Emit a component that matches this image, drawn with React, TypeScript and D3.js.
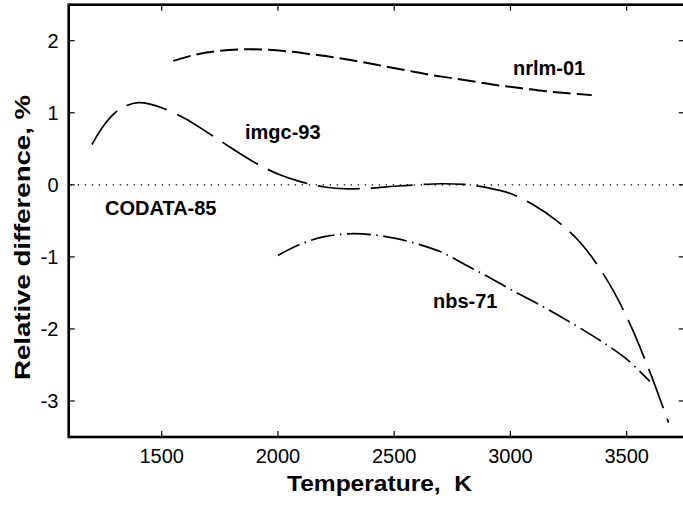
import React from "react";
import * as d3 from "d3";

const xTicks = [1500, 2000, 2500, 3000, 3500];
const yTicks = [-3, -2, -1, 0, 1, 2];

const nrlmT = [1550, 1650, 1750, 1850, 1950, 2050, 2150, 2250, 2350, 2450, 2550, 2650, 2750, 2850, 2950, 3050, 3150, 3250, 3350];
const nrlmV = [1.72, 1.81, 1.86, 1.88, 1.875, 1.85, 1.81, 1.765, 1.71, 1.65, 1.59, 1.53, 1.48, 1.43, 1.38, 1.34, 1.30, 1.27, 1.245];

const imgcT = [1200, 1250, 1300, 1350, 1400, 1450, 1500, 1600, 1700, 1800, 1900, 2000, 2100, 2200, 2300, 2400, 2500, 2600, 2700, 2800, 2900, 3000, 3100, 3200, 3300, 3400, 3500, 3600, 3680];
const imgcV = [0.56, 0.82, 1.0, 1.1, 1.14, 1.12, 1.07, 0.92, 0.72, 0.51, 0.31, 0.15, 0.04, -0.03, -0.055, -0.045, -0.02, 0.0, 0.015, 0.005, -0.04, -0.12, -0.28, -0.5, -0.8, -1.24, -1.83, -2.6, -3.3];

const nbsT = [2000, 2100, 2200, 2300, 2400, 2500, 2600, 2700, 2800, 2900, 3000, 3100, 3200, 3300, 3400, 3500, 3600];
const nbsV = [-0.98, -0.82, -0.72, -0.68, -0.69, -0.74, -0.82, -0.93, -1.1, -1.27, -1.45, -1.62, -1.8, -1.99, -2.19, -2.42, -2.73];

const labels = ["nrlm-01", "imgc-93", "CODATA-85", "nbs-71"];

const W = 683;
const H = 505;

export default function App() {
  const x = d3.scaleLinear().domain([1100, 3750]).range([68.7, 684.8]);
  const y = d3.scaleLinear().domain([-3.5, 2.5]).range([437, 4.7]);
  const line = d3
    .line<[number, number]>()
    .x((d) => x(d[0]))
    .y((d) => y(d[1]))
    .curve(d3.curveCatmullRom.alpha(0.5));
  const zip = (a: number[], b: number[]) => a.map((t, i) => [t, b[i]] as [number, number]);
  const x0 = x(1100);
  const x1 = x(3750);
  const yTop = y(2.5);
  const yBot = y(-3.5);
  const font = "Arial, 'Liberation Sans', Helvetica, sans-serif";
  return (
    <svg
      width={W}
      height={H}
      style={{ position: "absolute", left: 0, top: 0, background: "#fff" }}
      fontFamily={font}
    >
      <defs>
        <clipPath id="plot">
          <rect x={x0} y={yTop} width={x1 - x0} height={yBot - yTop} />
        </clipPath>
      </defs>
      {/* zero line */}
      <line
        x1={x0 + 2}
        x2={x1}
        y1={y(0)}
        y2={y(0)}
        stroke="#000"
        strokeWidth={1.4}
        strokeDasharray="1.4 5.6"
      />
      <g clipPath="url(#plot)" fill="none" stroke="#000">
        <path d={line(zip(nrlmT, nrlmV)) || ""} strokeWidth={2} strokeDasharray="18 6" />
        <path d={line(zip(imgcT, imgcV)) || ""} strokeWidth={1.7} strokeDasharray="42 11" />
        <path d={line(zip(nbsT, nbsV)) || ""} strokeWidth={1.7} strokeDasharray="24 5.5 1.5 5.5" />
      </g>
      {/* frame */}
      <rect x={x0} y={yTop} width={x1 - x0} height={yBot - yTop} fill="none" stroke="#000" strokeWidth={2.6} />
      {/* x ticks */}
      {xTicks.map((t) => (
        <g key={"x" + t}>
          <line x1={x(t)} x2={x(t)} y1={yBot} y2={yBot - 6} stroke="#000" strokeWidth={1.2} />
          <line x1={x(t)} x2={x(t)} y1={yTop} y2={yTop + 6} stroke="#000" strokeWidth={1.2} />
          <text x={x(t)} y={462.5} textAnchor="middle" fontSize={20} fill="#000">
            {t}
          </text>
        </g>
      ))}
      {yTicks.map((t) => (
        <g key={"y" + t}>
          <line x1={x0} x2={x0 + 6} y1={y(t)} y2={y(t)} stroke="#000" strokeWidth={1.2} />
          <line x1={x1} x2={x1 - 6} y1={y(t)} y2={y(t)} stroke="#000" strokeWidth={1.2} />
          <text x={58.5} y={y(t) + 7.3} textAnchor="end" fontSize={20} fill="#000">
            {t}
          </text>
        </g>
      ))}
      {/* series labels */}
      <g fontSize={20} fontWeight="bold" fill="#000">
        <text x={513} y={75}>{labels[0]}</text>
        <text x={245} y={138.5}>{labels[1]}</text>
        <text x={105} y={215}>{labels[2]}</text>
        <text x={433} y={307.5}>{labels[3]}</text>
      </g>
      {/* axis titles */}
      <text
        x={287}
        y={491}
        fontSize={22}
        fontWeight="bold"
        textLength={185}
        lengthAdjust="spacingAndGlyphs"
        style={{ whiteSpace: "pre" }}
      >
        {"Temperature,  K"}
      </text>
      <text
        transform="translate(30,380) rotate(-90)"
        x={0}
        y={0}
        fontSize={22}
        fontWeight="bold"
        textLength={285}
        lengthAdjust="spacingAndGlyphs"
        style={{ whiteSpace: "pre" }}
      >
        {"Relative difference, %"}
      </text>
    </svg>
  );
}
